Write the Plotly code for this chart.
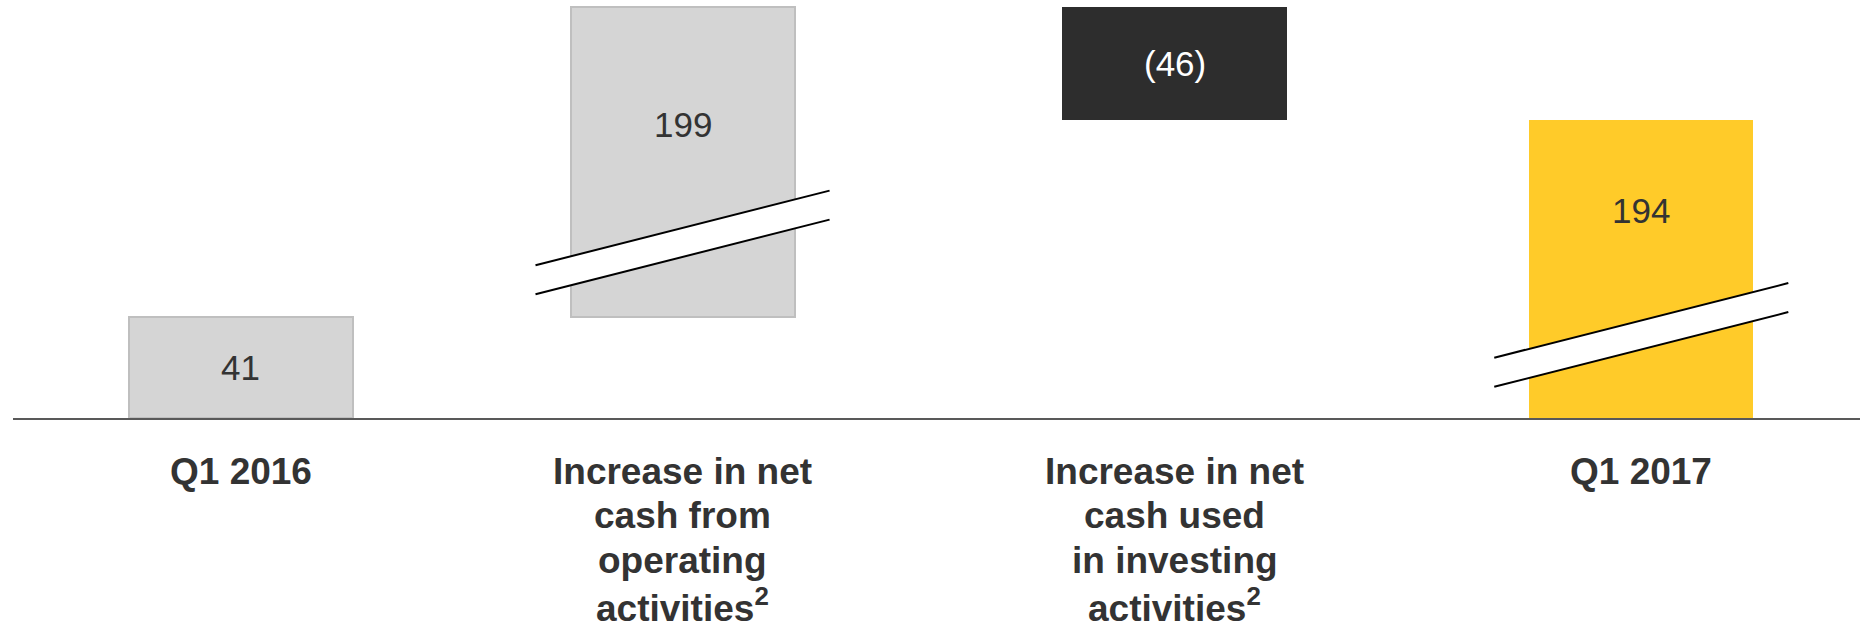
import plotly.graph_objects as go

# ---- data ----
categories = [
    "Q1 2016",
    "Increase in net<br>cash from<br>operating<br>activities<sup>2</sup>",
    "Increase in net<br>cash used<br>in investing<br>activities<sup>2</sup>",
    "Q1 2017",
]
values = [41, 199, -46, 194]
measures = ["absolute", "relative", "relative", "total"]
broken = [False, True, False, True]          # bars drawn with an axis break

# ---- styles / layout constants ----
AXIS_CUT = 73                 # value units removed by the axis break
BREAK_CENTER = [None, 71.4, None, 33.8]   # display height of break band centre
BREAK_GAP = 11.8              # band thickness (display units)
BREAK_HALF_LEN = 0.315        # half length of break lines (category units)
BREAK_SLOPE = 48.2            # display units per category unit
LABEL_FRAC = [None, 0.5, None, 0.42]
X_NUDGE = [0, -0.054, 0, 0]   # slot nudges (category units)
BAR_W = 0.48
fill_colors = ["#D5D5D5", "#D5D5D5", "#2D2D2D", "#FFCB29"]
line_colors = ["#BFBFBF", "#BFBFBF", "#2D2D2D", "#FFCB29"]
line_widths = [2, 2, 0, 0]
label_colors = ["#333333", "#333333", "#FFFFFF", "#333333"]
FONT = "Liberation Sans, Arial, sans-serif"
CAT_FONT_SIZE = 37
CAT_FIRST_LINE = 53           # px below baseline to first label line centre
CAT_LINE_STEP = 44.8          # px between label lines

# ---- compute waterfall in display units ----
bases, heights = [], []
running = 0
for v, m, b in zip(values, measures, broken):
    cut = AXIS_CUT if b else 0
    if m == "absolute":
        base, h = 0, v - cut
        running = h
    elif m == "relative":
        base = running
        h = (v - cut if v > 0 else v + cut) if b else v
        running = base + h
    else:
        base, h = 0, running
    bases.append(base)
    heights.append(h)

xs = list(range(len(categories)))

fig = go.Figure()
fig.add_trace(go.Bar(
    x=xs, y=heights, base=bases,
    width=BAR_W,
    offset=[-BAR_W / 2 + n for n in X_NUDGE],
    marker=dict(color=fill_colors, line=dict(color=line_colors, width=line_widths)),
    hoverinfo="skip", showlegend=False,
))

def fmt(v):
    return f"({abs(v)})" if v < 0 else f"{v}"

annotations = []
shapes = []
for i, (v, b) in enumerate(zip(values, broken)):
    lo, hi = sorted([bases[i], bases[i] + heights[i]])
    cx = xs[i] + X_NUDGE[i]
    if b:
        yb = BREAK_CENTER[i]
        ly = hi - LABEL_FRAC[i] * (hi - yb)
        x0, x1 = cx - BREAK_HALF_LEN, cx + BREAK_HALF_LEN
        dy = BREAK_SLOPE * BREAK_HALF_LEN
        up0, up1 = yb + BREAK_GAP / 2 - dy, yb + BREAK_GAP / 2 + dy
        dn0, dn1 = yb - BREAK_GAP / 2 - dy, yb - BREAK_GAP / 2 + dy
        shapes.append(dict(type="path", xref="x", yref="y",
                           path=f"M {x0},{up0} L {x1},{up1} L {x1},{dn1} L {x0},{dn0} Z",
                           fillcolor="white", line=dict(width=0), layer="above"))
        for (a0, a1) in [(up0, up1), (dn0, dn1)]:
            shapes.append(dict(type="line", xref="x", yref="y", x0=x0, y0=a0, x1=x1, y1=a1,
                               line=dict(color="black", width=2), layer="above"))
    else:
        ly = (lo + hi) / 2
    annotations.append(dict(x=cx, y=ly, xref="x", yref="y", text=fmt(v), showarrow=False,
                            font=dict(family=FONT, size=35, color=label_colors[i])))
    for j, line in enumerate(categories[i].split("<br>")):
        annotations.append(dict(x=cx, y=0, xref="x", yref="paper", yanchor="middle",
                                yshift=-(CAT_FIRST_LINE + j * CAT_LINE_STEP),
                                text=line, showarrow=False, align="center",
                                font=dict(family=FONT, size=CAT_FONT_SIZE, color="#333333",
                                          weight="bold")))

fig.update_layout(
    width=1860, height=621, autosize=False,
    margin=dict(l=13, r=0, t=0, b=203),
    paper_bgcolor="white", plot_bgcolor="white",
    xaxis=dict(range=[-0.4884, 3.4686], showticklabels=False, showgrid=False,
               zeroline=False, showline=True, linecolor="#595959", linewidth=2,
               ticks="", fixedrange=True),
    yaxis=dict(range=[0, 170], visible=False, showgrid=False, zeroline=False),
    shapes=shapes, annotations=annotations,
    bargap=0,
)

fig.write_html("out.html", config={"displayModeBar": False},
               post_script="document.body.style.margin='0';document.body.style.overflow='hidden';")
